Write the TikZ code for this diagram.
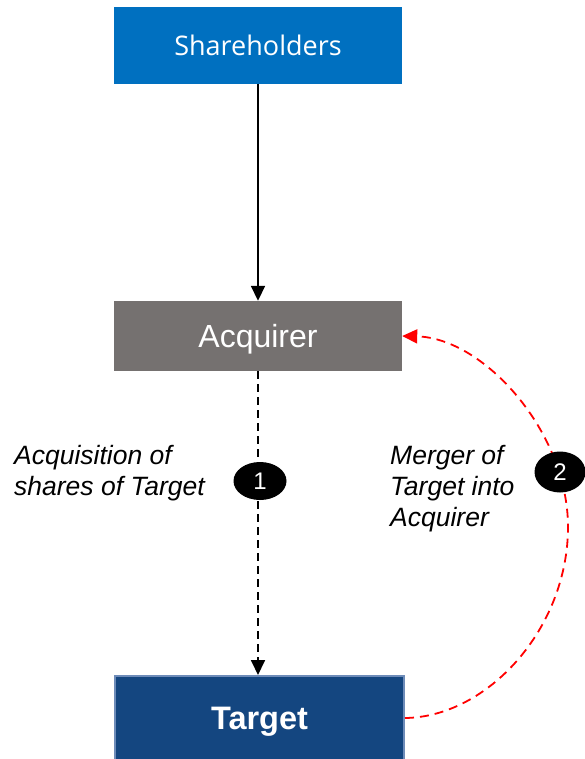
\documentclass[tikz,border=0pt]{standalone}
\usepackage{fontspec}
\setmainfont{Liberation Sans}
\newfontfamily\headfont{Open Sans}
\usetikzlibrary{arrows.meta,shapes.geometric}

\definecolor{shblue}{RGB}{0,112,192}
\definecolor{acqgrey}{RGB}{117,113,112}
\definecolor{tgtblue}{RGB}{20,70,128}
\definecolor{tgtedge}{RGB}{110,140,185}
\definecolor{mergered}{RGB}{255,0,0}

\tikzset{
  box/.style={rectangle, inner sep=0pt, text=white, text depth=0pt},
  stepnum/.style={ellipse, fill=black, inner sep=0pt, text=white,
    font=\fontsize{24}{24}\selectfont},
  note/.style={inner sep=0pt, anchor=west, align=left,
    font=\fontsize{26.5}{31}\selectfont\itshape},
  flow/.style={line width=1.8pt, -{Triangle[length=15pt,width=14pt]}},
}

\begin{document}
\begin{tikzpicture}[x=1pt, y=-1pt]
\useasboundingbox (0,0) rectangle (585,759);

% boxes
\node[box, fill=shblue, minimum width=288pt, minimum height=77pt,
      font=\headfont\fontsize{27}{27}\selectfont] (sh) at (258,45.5) {Shareholders};
\node[box, fill=acqgrey, minimum width=288pt, minimum height=70pt,
      font=\fontsize{32}{32}\selectfont] (acq) at (258,336) {Acquirer};
\node[box, fill=tgtblue, draw=tgtedge, line width=2pt, minimum width=289pt,
      minimum height=84pt, font=\bfseries\fontsize{32.5}{32.5}\selectfont] (tgt) at (259.5,718) {Target};

% ownership link
\draw[flow] (sh.south) -- (acq.north);

% step 1: share acquisition
\draw[flow, dash pattern=on 8pt off 5pt] (acq.south) -- (acq.south |- tgt.north);
\node[stepnum, minimum width=53pt, minimum height=38pt] (s1) at (260,481) {1};

% step 2: merger
\draw[flow, color=mergered, dash pattern=on 9pt off 6pt]
  (tgt.east) .. controls (488,717) and (568,628) .. (568,527)
  .. controls (568,432) and (484,338) .. (acq.east);
\node[stepnum, minimum width=51pt, minimum height=41pt] (s2) at (560,472) {2};

% labels
\node[note] (l1) at (14,473) {Acquisition of\\shares of Target};
\node[note] (l2) at (390,489) {Merger of\\Target into\\Acquirer};
\end{tikzpicture}
\end{document}
